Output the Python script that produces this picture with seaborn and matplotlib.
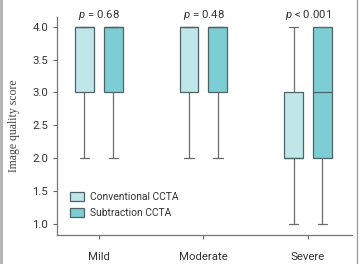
import matplotlib
matplotlib.use('Agg')
import numpy as np
import pandas as pd
import matplotlib.pyplot as plt
import seaborn as sns
from matplotlib.patches import Patch

# score levels and counts per score (1..4) read from box quartiles
scores = [1, 2, 3, 4]
groups = ['Mild', 'Moderate', 'Severe']
methods = ['Conventional CCTA', 'Subtraction CCTA']
counts = {
    ('Mild', 'Conventional CCTA'): [0, 2, 6, 12],
    ('Mild', 'Subtraction CCTA'): [0, 2, 6, 12],
    ('Moderate', 'Conventional CCTA'): [0, 3, 7, 14],
    ('Moderate', 'Subtraction CCTA'): [0, 3, 7, 14],
    ('Severe', 'Conventional CCTA'): [3, 8, 7, 2],
    ('Severe', 'Subtraction CCTA'): [2, 4, 5, 9],
}
p_labels = ['0.68', '0.48', '< 0.001']
p_signs = ['=', '=', '']
colors = ['#bfe6e9', '#7dcdd4']

rows = []
for (g, m), c in counts.items():
    for s, n in zip(scores, c):
        rows += [{'group': g, 'method': m, 'score': s}] * n
df = pd.DataFrame(rows)

sns.set_style('ticks')
plt.rcParams['font.family'] = ['Roboto', 'DejaVu Sans']
plt.rcParams['mathtext.fontset'] = 'custom'
plt.rcParams['mathtext.it'] = 'Roboto:italic'
plt.rcParams['mathtext.rm'] = 'Roboto'

fig = plt.figure(figsize=(3.61, 2.64), dpi=100)
ax = fig.add_axes([0.158, 0.110, 0.817, 0.826])

edge = '#4f6466'
sns.boxplot(data=df, x='group', y='score', hue='method', order=groups,
            hue_order=methods, palette=colors, saturation=1, width=0.55, gap=0.35,
            whis=1.5, fliersize=0, linewidth=0.9, linecolor=edge,
            whiskerprops={'color': '#6b6b6b'}, capprops={'color': '#6b6b6b'},
            medianprops={'color': edge, 'linewidth': 0.9}, ax=ax, legend=False)

ax.set_ylim(0.83, 4.15)
ax.set_xlim(-0.40, 2.42)
ax.set_yticks([1.0, 1.5, 2.0, 2.5, 3.0, 3.5, 4.0])
ax.set_yticklabels(['1.0', '1.5', '2.0', '2.5', '3.0', '3.5', '4.0'])
ax.set_xlabel('')
ax.set_ylabel('Image quality score', fontsize=8.5, color='#444444', labelpad=9,
              family=['Liberation Serif', 'DejaVu Serif'])
ax.tick_params(axis='both', labelsize=8.2, colors='#666666', labelcolor='#333333',
               length=3, width=0.8)
ax.tick_params(axis='x', pad=9)
for s in ['top', 'right']:
    ax.spines[s].set_visible(False)
for s in ['left', 'bottom']:
    ax.spines[s].set_color('#777777')
    ax.spines[s].set_linewidth(0.9)

for i, (lab, sign) in enumerate(zip(p_labels, p_signs)):
    txt = f'$p$ {sign} {lab}' if sign else f'$p$ {lab}'
    ax.text(i, 4.07, txt, ha='center', va='bottom', fontsize=8.2, color='#333333')

handles = [Patch(facecolor=c, edgecolor=edge, linewidth=0.9) for c in colors]
ax.legend(handles, methods, loc='lower left', bbox_to_anchor=(0.022, 0.05),
          frameon=False, fontsize=7.4, handlelength=1.4, handleheight=1.0,
          handletextpad=0.6, labelspacing=0.55, labelcolor='#333333',
          borderaxespad=0.2)

# screenshot border
fig.add_artist(plt.Rectangle((0, 0), 0.009, 1, transform=fig.transFigure,
                             color='#b5b5b5', lw=0))
fig.add_artist(plt.Line2D([0.990, 0.990], [0, 1], transform=fig.transFigure,
                          color='#9a9a9a', lw=0.9))

fig.savefig('out.png', dpi=100)
